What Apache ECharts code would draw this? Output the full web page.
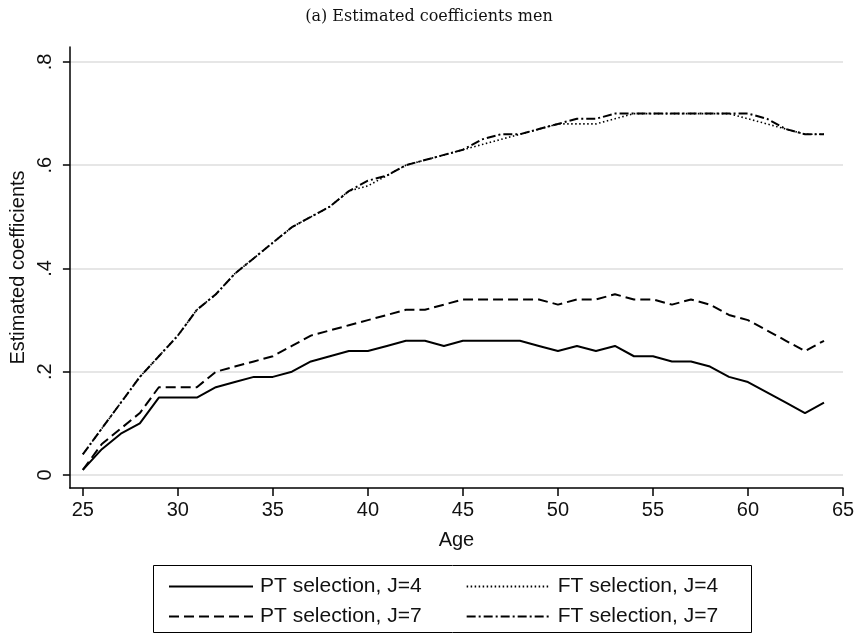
<!DOCTYPE html>
<html>
<head>
<meta charset="utf-8">
<script src="https://cdn.jsdelivr.net/npm/echarts@6/dist/echarts.min.js"></script>
<style>html,body{margin:0;padding:0;background:#fff;}#c{width:858px;height:634px;}</style>
</head>
<body>
<div id="c"></div>
<script>
var ages = [25,26,27,28,29,30,31,32,33,34,35,36,37,38,39,40,41,42,43,44,45,46,47,48,49,50,51,52,53,54,55,56,57,58,59,60,61,62,63,64];
var ptJ4 = [.01,.05,.08,.10,.15,.15,.15,.17,.18,.19,.19,.20,.22,.23,.24,.24,.25,.26,.26,.25,.26,.26,.26,.26,.25,.24,.25,.24,.25,.23,.23,.22,.22,.21,.19,.18,.16,.14,.12,.14];
var ptJ7 = [.01,.06,.09,.12,.17,.17,.17,.20,.21,.22,.23,.25,.27,.28,.29,.30,.31,.32,.32,.33,.34,.34,.34,.34,.34,.33,.34,.34,.35,.34,.34,.33,.34,.33,.31,.30,.28,.26,.24,.26];
var ftJ4 = [.04,.09,.14,.19,.23,.27,.32,.35,.39,.42,.45,.48,.50,.52,.55,.56,.58,.60,.61,.62,.63,.64,.65,.66,.67,.68,.68,.68,.69,.70,.70,.70,.70,.70,.70,.69,.68,.67,.66,.66];
var ftJ7 = [.04,.09,.14,.19,.23,.27,.32,.35,.39,.42,.45,.48,.50,.52,.55,.57,.58,.60,.61,.62,.63,.65,.66,.66,.67,.68,.69,.69,.70,.70,.70,.70,.70,.70,.70,.70,.69,.67,.66,.66];
var xTicks = [25,30,35,40,45,50,55,60,65];
var yTicks = [0,0.2,0.4,0.6,0.8];
var names = ['PT selection, J=4','FT selection, J=4','PT selection, J=7','FT selection, J=7'];

function pairs(v){ return ages.map(function(a,i){return [a,v[i]];}); }
var font = '"Liberation Sans", Arial, sans-serif';
var chart = echarts.init(document.getElementById('c'), null, {renderer:'canvas'});
function mkSeries(name, data, type, width){
  return {name:name, type:'line', data:pairs(data), symbol:'none', smooth:false, animation:false,
    lineStyle:{color:'#000', width:width, type:type, cap:'butt'}, itemStyle:{color:'#000'}};
}
var legTxt = {fontFamily:font, fontSize:21, color:'#111', padding:[0,0,0,2]};
var legCommon = {left:163, itemWidth:84, itemHeight:14, itemGap:44, textStyle:legTxt, selectedMode:false, itemStyle:{opacity:0}};
chart.setOption({
  animation:false,
  backgroundColor:'#fff',
  title:{text:'(a) Estimated coefficients men', left:'center', top:4,
    textStyle:{fontFamily:'"DejaVu Serif","Liberation Serif",serif', fontWeight:'normal', fontSize:16, color:'#111'}},
  grid:{left:67, right:15, top:47, bottom:146, containLabel:false},
  legend:[
    Object.assign({data:[names[0],names[1]], top:571}, legCommon),
    Object.assign({data:[names[2],names[3]], top:601}, legCommon)
  ],
  graphic:[{type:'rect', shape:{x:153.5, y:565.5, width:598, height:67}, style:{fill:'none', stroke:'#000', lineWidth:1}, silent:true}],
  xAxis:{type:'value', min:24.32, max:65, name:'Age', nameLocation:'middle', nameGap:42,
    nameTextStyle:{fontFamily:font, fontSize:20, color:'#111'},
    axisLine:{show:true, onZero:false, lineStyle:{color:'#000', width:1.5}},
    axisTick:{show:true, inside:false, length:8, customValues:xTicks, lineStyle:{color:'#000', width:1.5}},
    axisLabel:{customValues:xTicks, margin:12, fontFamily:font, fontSize:20, color:'#111'},
    splitLine:{show:false}},
  yAxis:{type:'value', min:-0.0252, max:0.829, name:'Estimated coefficients', nameLocation:'middle', nameGap:40, nameRotate:90,
    nameTextStyle:{fontFamily:font, fontSize:20, color:'#111'},
    axisLine:{show:true, onZero:false, lineStyle:{color:'#000', width:1.5}},
    axisTick:{show:true, inside:false, length:7, customValues:yTicks, lineStyle:{color:'#000', width:1.5}},
    axisLabel:{customValues:yTicks, rotate:90, margin:14, fontFamily:font, fontSize:20, color:'#111',
      formatter:function(v){ if(Math.abs(v)<1e-9) return '0'; return String(Math.round(v*10)/10).replace(/^0/,''); }},
    splitLine:{show:true, lineStyle:{color:'#e6e6e6', width:2}}},
  series:[
    mkSeries(names[0], ptJ4, 'solid', 2),
    mkSeries(names[1], ftJ4, [1.5,2.5], 1.6),
    mkSeries(names[2], ptJ7, [10,5], 2),
    mkSeries(names[3], ftJ7, [9,3,2,3], 2)
  ]
});
</script>
</body>
</html>
